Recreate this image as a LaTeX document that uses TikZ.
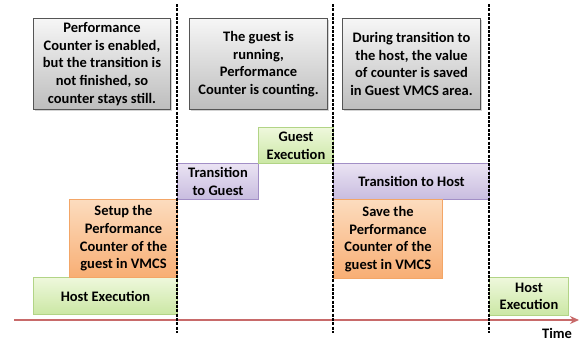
\documentclass[tikz,border=0pt]{standalone}
\usepackage{fontspec}
\setmainfont{Carlito}
\usetikzlibrary{shadows,arrows.meta}
\definecolor{gfill1}{HTML}{EEF8DC}
\definecolor{gfill2}{HTML}{CBE7A4}
\definecolor{gline}{HTML}{B2D486}
\definecolor{ofill1}{HTML}{FCDCBE}
\definecolor{ofill2}{HTML}{F8AE74}
\definecolor{oline}{HTML}{F3A667}
\definecolor{pfill1}{HTML}{EAE3F3}
\definecolor{pfill2}{HTML}{C8BCDF}
\definecolor{pline}{HTML}{A28FC6}
\definecolor{kfill1}{HTML}{F6F6F6}
\definecolor{kfill2}{HTML}{BDBDBD}
\definecolor{kline}{HTML}{555555}
\definecolor{tline}{HTML}{C86A6A}
\tikzset{
  base/.style={anchor=north west, inner sep=1pt, align=center,
    font=\fontsize{14.5}{17.6}\selectfont\bfseries, text=black},
  greenbox/.style={base, draw=gline, line width=1pt, top color=gfill1, bottom color=gfill2},
  orangebox/.style={base, draw=oline, line width=1pt, top color=ofill1, bottom color=ofill2},
  purplebox/.style={base, draw=pline, line width=1pt, top color=pfill1, bottom color=pfill2},
  graybox/.style={base, draw=kline, line width=1pt, top color=kfill1, bottom color=kfill2,
    drop shadow={shadow xshift=1.5pt, shadow yshift=-1.5pt, opacity=0.35}},
  divider/.style={black, line width=1.5pt, dash pattern=on 3pt off 1.3pt},
  timeline/.style={tline, line width=2pt, -{Stealth[length=9pt,width=8pt]}},
}
\begin{document}
\begin{tikzpicture}[x=1pt,y=-1pt]
\useasboundingbox (0,0) rectangle (581,341);
% timeline
\coordinate (t0) at (14,320);
\coordinate (t1) at (579,320);
\draw[timeline] (t0) -- (t1);
\node[font=\fontsize{14.5}{17}\selectfont\bfseries] (time) at (557,333) {Time};
% gray description boxes
\node[graybox, minimum width=137pt, minimum height=91pt] (d1) at (33,18)
  {Performance\\Counter is enabled,\\but the transition is\\not finished, so\\counter stays still.};
\node[graybox, minimum width=138pt, minimum height=91pt] (d2) at (189,18)
  {The guest is\\running,\\Performance\\Counter is counting.};
\node[graybox, minimum width=138pt, minimum height=91pt] (d3) at (342,18)
  {During transition to\\the host, the value\\of counter is saved\\in Guest VMCS area.};
% phase boxes
\node[greenbox, minimum width=144pt, minimum height=37pt] (h1) at (33,277) {Host Execution};
\node[orangebox, minimum width=108pt, minimum height=78pt] (s1) at (69,199)
  {Setup the\\Performance\\Counter of the\\guest in VMCS};
\node[purplebox, minimum width=81pt, minimum height=36pt] (tg) at (177,163) {Transition\\to Guest};
\node[greenbox, minimum width=75pt, minimum height=36pt] (ge) at (258,127) {Guest\\Execution};
\node[purplebox, minimum width=156pt, minimum height=36pt] (th) at (333,163) {Transition to Host};
\node[orangebox, minimum width=109pt, minimum height=79pt] (sv) at (333,199)
  {Save the\\Performance\\Counter of the\\guest in VMCS};
\node[greenbox, minimum width=79pt, minimum height=38pt] (h2) at (489,277) {Host\\Execution};
% dividers
\coordinate (a0) at (177,4); \coordinate (a1) at (177,333);
\coordinate (b0) at (333,4); \coordinate (b1) at (333,333);
\coordinate (c0) at (489,4); \coordinate (c1) at (489,333);
\draw[divider] (a0) -- (a1);
\draw[divider] (b0) -- (b1);
\draw[divider] (c0) -- (c1);
\end{tikzpicture}
\end{document}
